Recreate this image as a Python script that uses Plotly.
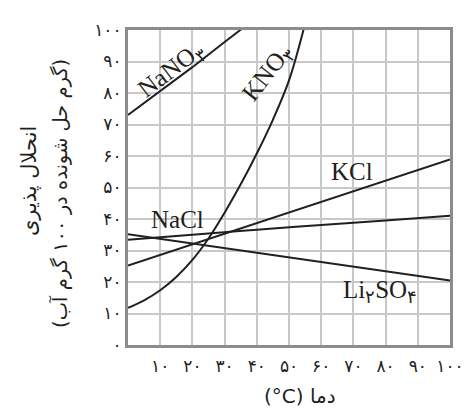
import plotly.graph_objects as go

# Data (temperature °C, solubility g / 100 g water)
nano3_t = [0, 10, 20, 30, 40]
nano3_s = [73, 80.5, 88.2, 96.2, 104]

kno3_t = [0, 5, 10, 15, 20, 25, 30, 35, 40, 45, 50, 55]
kno3_s = [11.8, 14.2, 17.4, 21.6, 27, 33.8, 42, 51, 60.8, 71.5, 84, 102]

kcl_t = [0, 100]
kcl_s = [25.2, 58.9]

nacl_t = [0, 20, 40, 60, 80, 100]
nacl_s = [33.4, 35.0, 36.6, 38.1, 39.5, 41.0]

li2so4_t = [0, 100]
li2so4_s = [35.2, 20.5]

x_tickvals = [10, 20, 30, 40, 50, 60, 70, 80, 90, 100]
x_ticktext = ["۱۰", "۲۰", "۳۰", "۴۰", "۵۰", "۶۰", "۷۰", "۸۰", "۹۰", "۱۰۰"]
y_tickvals = [0, 10, 20, 30, 40, 50, 60, 70, 80, 90, 100]
y_ticktext = ["۰", "۱۰", "۲۰", "۳۰", "۴۰", "۵۰", "۶۰", "۷۰", "۸۰", "۹۰", "۱۰۰"]

INK = "#231f20"
LINE = dict(color=INK, width=2)

fig = go.Figure()
fig.add_trace(go.Scatter(x=nano3_t, y=nano3_s, mode="lines", line=LINE))
fig.add_trace(go.Scatter(x=kno3_t, y=kno3_s, mode="lines", line=dict(LINE, shape="spline", smoothing=1)))
fig.add_trace(go.Scatter(x=kcl_t, y=kcl_s, mode="lines", line=LINE))
fig.add_trace(go.Scatter(x=nacl_t, y=nacl_s, mode="lines", line=dict(LINE, shape="spline")))
fig.add_trace(go.Scatter(x=li2so4_t, y=li2so4_s, mode="lines", line=LINE))

SERIF = "Liberation Serif"
PERS = "DejaVu Sans"
lab_font = dict(family=SERIF, size=25, color=INK)

labels = [
    ("NaNO<sub>۳</sub>", 13.6, 87.2, -37.5),
    ("KNO<sub>۳</sub>", 43.5, 86.3, -52),
    ("KCl", 69.6, 55.1, 0),
    ("NaCl", 15.5, 39.9, 0),
    ("Li<sub>۲</sub>SO<sub>۴</sub>", 78.3, 17.1, 0),
]
for txt, x, y, ang in labels:
    fig.add_annotation(x=x, y=y, xref="x", yref="y", text=txt, showarrow=False,
                       textangle=ang, font=lab_font, xanchor="center", yanchor="middle")

W, H = 468, 402
ML, MR, MT, MB = 120, 26, 16, 65
pw, ph = W - ML - MR, H - MT - MB

def px_to_paper(sx, sy):
    # screenshot pixels -> paper coords (page body has an 8px margin)
    fx, fy = sx - 8, sy - 8
    return (fx - ML) / pw, (H - MB - fy) / ph

tx1, ty1 = px_to_paper(29, 178)
tx2, ty2 = px_to_paper(60, 191)
tx3, ty3 = px_to_paper(300, 397)
fig.add_annotation(x=tx1, y=ty1, xref="paper", yref="paper", text="انحلال پذیری",
                   showarrow=False, textangle=-90, xanchor="center", yanchor="middle",
                   font=dict(family=PERS, size=21, color=INK))
fig.add_annotation(x=tx2, y=ty2, xref="paper", yref="paper",
                   text="(گرم حل شونده در ۱۰۰ گرم آب)",
                   showarrow=False, textangle=-90, xanchor="center", yanchor="middle",
                   font=dict(family=PERS, size=19.5, color=INK))
fig.add_annotation(x=tx3, y=ty3, xref="paper", yref="paper", text="(°C) دما",
                   showarrow=False, xanchor="center", yanchor="middle",
                   font=dict(family=PERS, size=20, color=INK))

fig.update_layout(
    width=W, height=H,
    margin=dict(l=ML, r=MR, t=MT, b=MB),
    plot_bgcolor="white", paper_bgcolor="white",
    showlegend=False,
    xaxis=dict(range=[0, 100], tickvals=x_tickvals, ticktext=x_ticktext,
               showgrid=True, gridcolor="#c8c8c8", gridwidth=1.5,
               showline=True, linecolor="#8c8c8c", linewidth=3, mirror=True,
               zeroline=False, ticks="", ticklabelstandoff=4,
               tickfont=dict(family=PERS, size=17, color=INK)),
    yaxis=dict(range=[0, 100], tickvals=y_tickvals, ticktext=y_ticktext,
               showgrid=True, gridcolor="#c8c8c8", gridwidth=1.5,
               showline=True, linecolor="#8c8c8c", linewidth=3, mirror=True,
               zeroline=False, ticks="", ticklabelstandoff=0,
               tickfont=dict(family=PERS, size=17, color=INK)),
)

fig.write_html("out.html")
